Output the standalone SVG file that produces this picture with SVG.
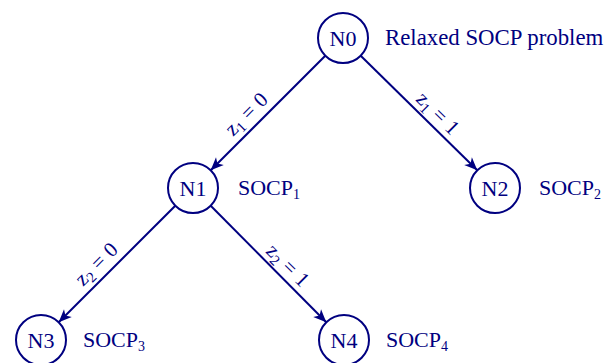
<svg xmlns="http://www.w3.org/2000/svg" width="605" height="363" viewBox="0 0 605 363">
  <style>
    .node circle { fill: #ffffff; stroke: #000080; stroke-width: 2; }
    .node text { font-family: "Liberation Serif", "DejaVu Serif", serif; font-size: 22px; fill: #000080; text-anchor: middle; }
    .tag { font-family: "Liberation Serif", "DejaVu Serif", serif; font-size: 20px; fill: #000080; }
    .tag .sub { font-size: 14px; }
    .edge { stroke: #000080; stroke-width: 2; fill: none; marker-end: url(#head); }
    .elabel { font-family: "Liberation Serif", "DejaVu Serif", serif; font-size: 21px; fill: #000080; text-anchor: middle; }
    .elabel .sub { font-size: 15px; }
  </style>
  <defs>
    <marker id="head" markerUnits="userSpaceOnUse" markerWidth="16" markerHeight="14" viewBox="-14 -7 16 14" refX="0" refY="0" orient="auto">
      <path d="M0,0 L-13,-5.5 L-9.5,0 L-13,5.5 Z" fill="#000080"/>
    </marker>
  </defs>

  <!-- branching edges with branch conditions -->
  <g id="edges">
    <line class="edge" x1="325.3" y1="55.7" x2="210.7" y2="170.3"/>
    <line class="edge" x1="360.7" y1="55.7" x2="477.3" y2="170.3"/>
    <line class="edge" x1="175.3" y1="205.7" x2="58.7" y2="322.3"/>
    <line class="edge" x1="210.7" y1="205.7" x2="326.3" y2="322.3"/>

    <text class="elabel" transform="translate(251,119) rotate(-45)">z<tspan class="sub" dy="4">1</tspan><tspan dy="-4" dx="6">=</tspan><tspan dx="6">0</tspan></text>
    <text class="elabel" transform="translate(433,118) rotate(45)">z<tspan class="sub" dy="4">1</tspan><tspan dy="-4" dx="6">=</tspan><tspan dx="6">1</tspan></text>
    <text class="elabel" transform="translate(101,269) rotate(-45)">z<tspan class="sub" dy="4">2</tspan><tspan dy="-4" dx="6">=</tspan><tspan dx="6">0</tspan></text>
    <text class="elabel" transform="translate(283,270) rotate(45)">z<tspan class="sub" dy="4">2</tspan><tspan dy="-4" dx="6">=</tspan><tspan dx="6">1</tspan></text>
  </g>

  <g id="N0" class="node">
    <circle cx="343" cy="38" r="25"/>
    <text x="343" y="45.5">N0</text>
    <text class="tag" x="385" y="45" style="font-size:22.8px;text-anchor:start">Relaxed SOCP problem</text>
  </g>

  <g id="N1" class="node">
    <circle cx="193" cy="188" r="25"/>
    <text x="193" y="195.5">N1</text>
    <text class="tag" x="238" y="195" style="text-anchor:start">SOCP<tspan class="sub" dy="4">1</tspan></text>
  </g>

  <g id="N2" class="node">
    <circle cx="495" cy="188" r="25"/>
    <text x="495" y="195.5">N2</text>
    <text class="tag" x="539" y="195" style="text-anchor:start">SOCP<tspan class="sub" dy="4">2</tspan></text>
  </g>

  <g id="N3" class="node">
    <circle cx="41" cy="340" r="25"/>
    <text x="41" y="347.5">N3</text>
    <text class="tag" x="83" y="347" style="text-anchor:start">SOCP<tspan class="sub" dy="4">3</tspan></text>
  </g>

  <g id="N4" class="node">
    <circle cx="344" cy="340" r="25"/>
    <text x="344" y="347.5">N4</text>
    <text class="tag" x="386" y="347" style="text-anchor:start">SOCP<tspan class="sub" dy="4">4</tspan></text>
  </g>
</svg>
